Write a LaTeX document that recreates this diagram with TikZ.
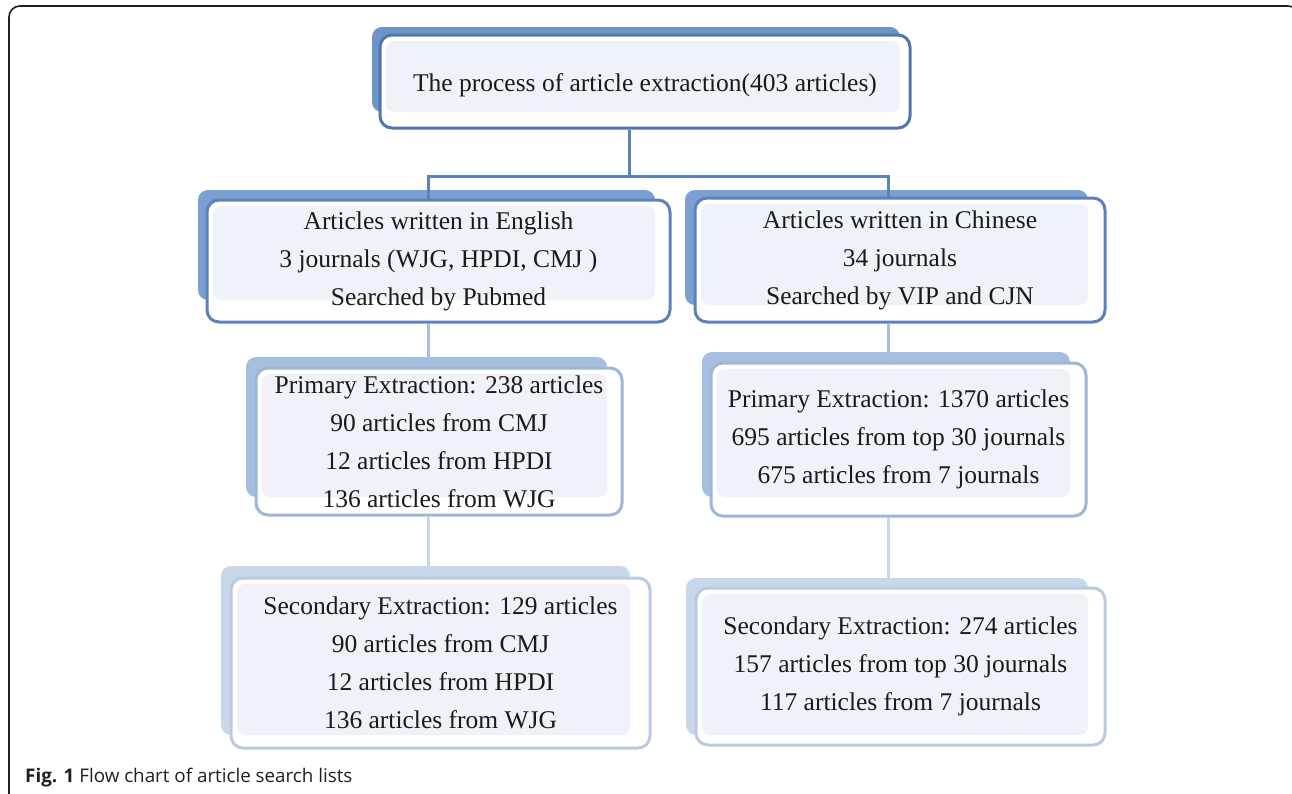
\documentclass[tikz,border=0pt]{standalone}
\usepackage{fontspec}
\setmainfont{Liberation Serif}
\newfontfamily\capfont{Open Sans}
\definecolor{shA}{HTML}{6D95C8}
\definecolor{bdA}{HTML}{4F77AD}
\definecolor{shB}{HTML}{7A9FD0}
\definecolor{bdB}{HTML}{5B82BB}
\definecolor{shC}{HTML}{A6BEDF}
\definecolor{bdC}{HTML}{9FB6D8}
\definecolor{shD}{HTML}{C9D7EB}
\definecolor{bdD}{HTML}{BACAE3}
\definecolor{inner}{HTML}{EFF2F8}
\definecolor{txt}{HTML}{1A1A1A}
\definecolor{frame}{HTML}{231F20}
\begin{document}
\begin{tikzpicture}[x=1pt,y=-1pt,
  mainbox/.style={align=center, font=\fontsize{25.5}{38}\selectfont, text=txt,
    rounded corners=12pt, line width=3pt, inner sep=0pt},
  shadowbox/.style={rounded corners=10pt},
  innerbox/.style={fill=inner, rounded corners=8pt},
  conn/.style={line width=3pt}]
\clip (0,0) rectangle (1292,793);
\fill[white] (0,0) rectangle (1292,793);
% outer frame
\draw[line width=1.6pt, frame, rounded corners=11pt] (9,800) -- (9,6) -- (1299,6) -- (1299,800);

% ---- top box
\fill[shA, shadowbox] (372,27) rectangle (900,112);
\fill[white, rounded corners=12pt] (380,35) rectangle (910,128);
\fill[innerbox] (386,41) rectangle (900,112);
\node[mainbox, draw=bdA, minimum width=530, minimum height=93] (top) at (645,81.5)
  {\rule{0pt}{26pt}The process of article extraction(403 articles)};

% ---- level 2 left
\fill[shB, shadowbox] (198,190) rectangle (655,300);
\fill[white, rounded corners=12pt] (207,200) rectangle (670,322);
\fill[innerbox] (213,206) rectangle (655,300);
\node[mainbox, draw=bdB, minimum width=463, minimum height=122] (en) at (438.5,261)
  {Articles written in English\\3 journals (WJG, HPDI, CMJ )\\Searched by Pubmed};

% ---- level 2 right
\fill[shB, shadowbox] (685,190) rectangle (1088,305);
\fill[white, rounded corners=12pt] (695,198) rectangle (1105,322);
\fill[innerbox] (701,204) rectangle (1088,305);
\node[mainbox, draw=bdB, minimum width=410, minimum height=124] (ch) at (900,260)
  {Articles written in Chinese\\34 journals\\Searched by VIP and CJN};

% ---- level 3 left
\fill[shC, shadowbox] (246,357) rectangle (607,497);
\fill[white, rounded corners=12pt] (256,368) rectangle (622,515);
\fill[innerbox] (262,374) rectangle (607,497);
\node[mainbox, draw=bdC, minimum width=366, minimum height=147] (ep) at (439,441.5)
  {Primary Extraction: 238 articles\\90 articles from CMJ\\12 articles from HPDI\\136 articles from WJG};

% ---- level 3 right
\fill[shC, shadowbox] (702,352) rectangle (1070,497);
\fill[white, rounded corners=12pt] (711,363) rectangle (1086,516);
\fill[innerbox] (717,369) rectangle (1070,497);
\node[mainbox, draw=bdC, minimum width=375, minimum height=153] (cp) at (898.5,439.5)
  {Primary Extraction: 1370 articles\\695 articles from top 30 journals\\675 articles from 7 journals};

% ---- level 4 left
\fill[shD, shadowbox] (221,566) rectangle (630,735);
\fill[white, rounded corners=12pt] (231,578) rectangle (650,748);
\fill[innerbox] (237,584) rectangle (630,735);
\node[mainbox, draw=bdD, minimum width=419, minimum height=170] (es) at (440.5,663)
  {Secondary Extraction: 129 articles\\90 articles from CMJ\\12 articles from HPDI\\136 articles from WJG};

% ---- level 4 right
\fill[shD, shadowbox] (686,578) rectangle (1088,735);
\fill[white, rounded corners=12pt] (696,588) rectangle (1105,745);
\fill[innerbox] (702,594) rectangle (1088,735);
\node[mainbox, draw=bdD, minimum width=409, minimum height=157] (cs) at (900.5,666.5)
  {Secondary Extraction: 274 articles\\157 articles from top 30 journals\\117 articles from 7 journals};

% ---- connectors
\coordinate (j) at (629,176);
\coordinate (jl) at (428,176);
\coordinate (jr) at (888,176);
\draw[conn, bdB] (top.south -| j) -- (j);
\draw[conn, bdB] (jl |- en.north) -- (jl) -- (jr) -- (jr |- ch.north);
\draw[conn, shC] (jl |- en.south) -- (jl |- ep.north);
\draw[conn, shC] (jr |- ch.south) -- (jr |- cp.north);
\draw[conn, shD] (jl |- ep.south) -- (jl |- es.north);
\draw[conn, shD] (jr |- cp.south) -- (jr |- cs.north);

% ---- caption
\node[anchor=west, inner sep=0pt, text=frame, font=\capfont\fontsize{18.8}{20}\selectfont] (cap) at (25,778)
  {\textbf{Fig. 1} Flow chart of article search lists};
\end{tikzpicture}
\end{document}
